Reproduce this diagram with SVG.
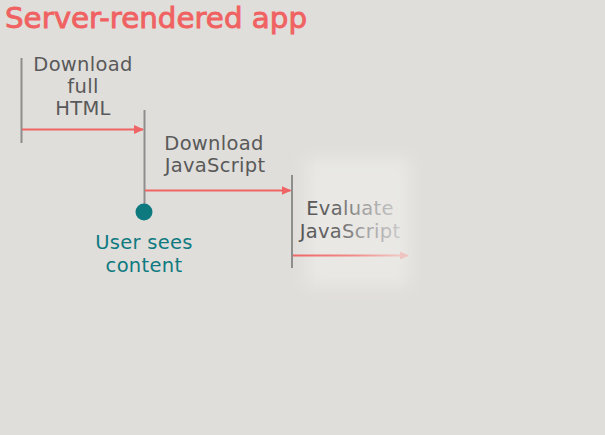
<svg xmlns="http://www.w3.org/2000/svg" width="605" height="435" viewBox="0 0 605 435">
<defs>
<style>
.lbl{font-family:"DejaVu Sans","Liberation Sans",sans-serif;font-size:19.5px;fill:#595959;text-anchor:middle;letter-spacing:0.3px}
.teal{fill:#0e7a80}
.vline{stroke:#8e8e8c;stroke-width:2}
.arrow{stroke:#ef6464;stroke-width:2;fill:none}
</style>
<marker id="ah" viewBox="0 0 10 10" refX="9" refY="5" markerWidth="10" markerHeight="10" markerUnits="userSpaceOnUse" orient="auto">
<path d="M0,0.5 L10,5 L0,9.5 Z" fill="#ef6464"/>
</marker>
<marker id="ahf" viewBox="0 0 10 10" refX="9" refY="5" markerWidth="9" markerHeight="9" markerUnits="userSpaceOnUse" orient="auto">
<path d="M0,0.5 L10,5 L0,9.5 Z" fill="#efc4c0"/>
</marker>
<linearGradient id="fadeText" gradientUnits="userSpaceOnUse" x1="300" y1="0" x2="405" y2="0">
<stop offset="0" stop-color="#555555"/>
<stop offset="0.35" stop-color="#666666"/>
<stop offset="0.6" stop-color="#a0a0a0"/>
<stop offset="1" stop-color="#cfcfcf"/>
</linearGradient>
<linearGradient id="fadeArrow" gradientUnits="userSpaceOnUse" x1="292" y1="0" x2="410" y2="0">
<stop offset="0" stop-color="#ef6464"/>
<stop offset="0.5" stop-color="#f08a86"/>
<stop offset="1" stop-color="#f0d4d0"/>
</linearGradient>
<filter id="blur" x="-40%" y="-40%" width="180%" height="180%">
<feGaussianBlur stdDeviation="8"/>
</filter>
</defs>
<rect width="605" height="435" fill="#e0dedb"/>
<rect x="306" y="158" width="104" height="128" fill="#e9e8e5" filter="url(#blur)"/>
<text x="5" y="28" font-family="DejaVu Sans, Liberation Sans, sans-serif" font-size="29" fill="#f06262" textLength="302" lengthAdjust="spacingAndGlyphs" stroke="#f06262" stroke-width="0.9">Server-rendered app</text>
<g id="connectors">
<line class="vline" x1="21.5" y1="58" x2="21.5" y2="143"/>
<line class="vline" x1="144.5" y1="110" x2="144.5" y2="205"/>
<line class="vline" x1="292" y1="175" x2="292" y2="268"/>
<line class="arrow" x1="22" y1="129.5" x2="143" y2="129.5" marker-end="url(#ah)"/>
<line class="arrow" x1="145" y1="190.5" x2="290.5" y2="190.5" marker-end="url(#ah)"/>
<line x1="293" y1="255.5" x2="408" y2="255.5" stroke="url(#fadeArrow)" stroke-width="2" marker-end="url(#ahf)"/>
</g>
<g id="download-html">
<text class="lbl" x="83" y="71">Download</text>
<text class="lbl" x="83" y="93">full</text>
<text class="lbl" x="83" y="115">HTML</text>
</g>
<g id="download-js">
<text class="lbl" x="214" y="150">Download</text>
<text class="lbl" x="215" y="172">JavaScript</text>
</g>
<g id="user-sees-content">
<circle cx="144" cy="212" r="8.5" fill="#0e7a80"/>
<text class="lbl teal" x="144" y="249">User sees</text>
<text class="lbl teal" x="144" y="272">content</text>
</g>
<g id="evaluate-js">
<text class="lbl" x="350" y="215" style="fill:url(#fadeText)">Evaluate</text>
<text class="lbl" x="350" y="238" style="fill:url(#fadeText)">JavaScript</text>
</g>
</svg>
